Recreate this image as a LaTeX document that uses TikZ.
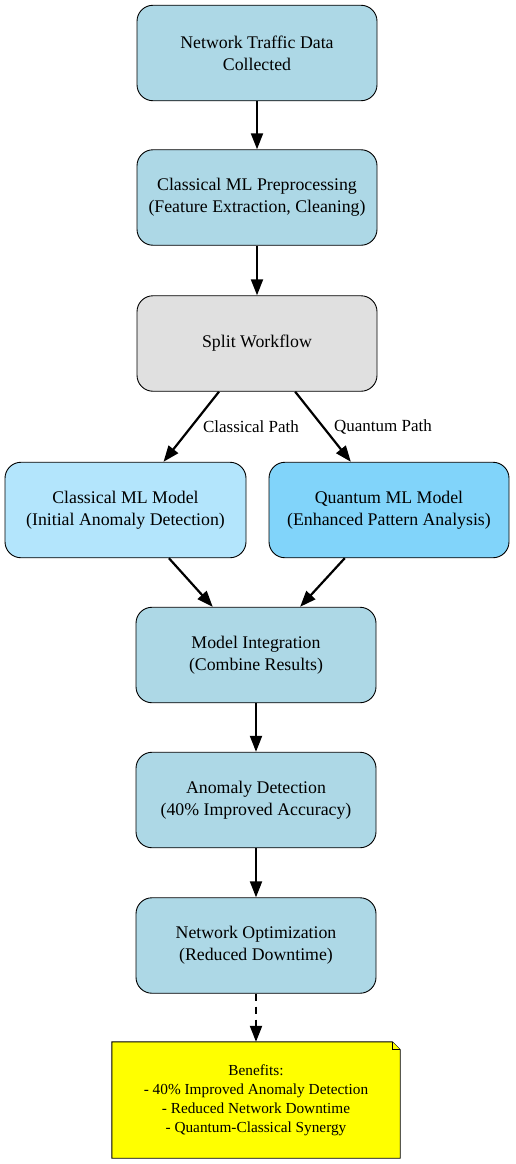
\documentclass[tikz,border=0pt]{standalone}
\usepackage{fontspec}
\setmainfont{Liberation Serif}
\usetikzlibrary{arrows.meta}
\definecolor{nodeblue}{HTML}{ADD8E6}
\definecolor{splitgray}{HTML}{E0E0E0}
\definecolor{classblue}{HTML}{B3E5FC}
\definecolor{quantblue}{HTML}{81D4FA}
\definecolor{noteyellow}{HTML}{FFFF00}
\tikzset{
  box/.style={draw=black, line width=0.9pt, rounded corners=16pt, fill=nodeblue,
    minimum width=240pt, minimum height=95.5pt, align=center, inner sep=0pt,
    font=\fontsize{17.8}{21.7}\selectfont},
  flow/.style={line width=2.2pt, -{Triangle[length=16pt,width=12pt]}},
  elabel/.style={font=\fontsize{17}{20}\selectfont, inner sep=0pt},
  notetext/.style={inner sep=0pt, align=center, font=\fontsize{15.3}{19}\selectfont},
}
\begin{document}
\begin{tikzpicture}[x=1pt,y=-1pt]
\useasboundingbox (0,0) rectangle (515,1164);
\node[box] (data) at (257,53) {Network Traffic Data\\Collected};
\node[box] (prep) at (257,197.5) {Classical ML Preprocessing\\(Feature Extraction, Cleaning)};
\node[box, fill=splitgray] (split) at (257,343.5) {Split Workflow};
\node[box, fill=classblue, minimum width=241pt] (cml) at (125.5,510) {Classical ML Model\\(Initial Anomaly Detection)};
\node[box, fill=quantblue] (qml) at (389,510) {Quantum ML Model\\(Enhanced Pattern Analysis)};
\node[box] (integ) at (256,655) {Model Integration\\(Combine Results)};
\node[box] (anom) at (256,800) {Anomaly Detection\\(40\% Improved Accuracy)};
\node[box] (opt) at (256,945.5) {Network Optimization\\(Reduced Downtime)};
\node[minimum width=288pt, minimum height=116pt, inner sep=0pt] (note) at (256,1100) {};
\draw[line width=0.9pt, fill=noteyellow] (note.north west) -- ([xshift=-8pt]note.north east) -- ([yshift=-8pt]note.north east) -- (note.south east) -- (note.south west) -- cycle;
\draw[line width=0.9pt, fill=noteyellow] ([xshift=-8pt]note.north east) -- ([xshift=-8pt,yshift=-8pt]note.north east) -- ([yshift=-8pt]note.north east);
\node[notetext] (notebody) at (note.center)
  {Benefits:\\- 40\% Improved Anomaly Detection\\- Reduced Network Downtime\\- Quantum-Classical Synergy};
\draw[flow] (data) -- (prep);
\draw[flow] (prep) -- (split);
\draw[flow] (split) -- (cml);
\draw[flow] (split) -- (qml);
\draw[flow] (cml) -- (integ);
\draw[flow] (qml) -- (integ);
\draw[flow] (integ) -- (anom);
\draw[flow] (anom) -- (opt);
\draw[flow, dash pattern=on 7pt off 6pt] (opt) -- (note);
\node[elabel] (lc) at (251,427) {Classical Path};
\node[elabel] (lq) at (383,427) {Quantum Path};
\end{tikzpicture}
\end{document}
